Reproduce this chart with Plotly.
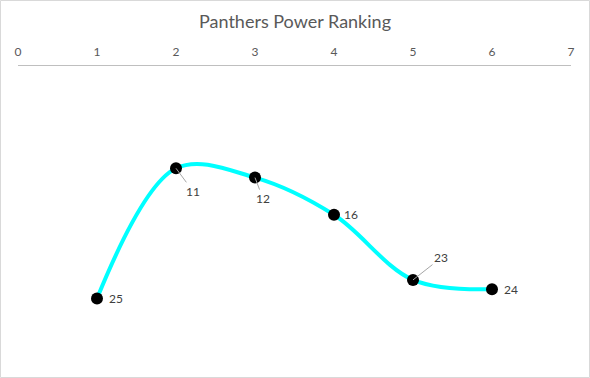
import plotly.graph_objects as go

weeks = [1, 2, 3, 4, 5, 6]
rankings = [25, 11, 12, 16, 23, 24]
x_ticks = [0, 1, 2, 3, 4, 5, 6, 7]
title_text = "Panthers Power Ranking"

# label offsets (pixels): (ax, ay, show_leader)
label_offsets = {
    25: (19, 0, False),
    11: (17, 23, True),
    12: (8, 21, True),
    16: (17, 0, False),
    23: (28, -22, True),
    24: (19, 0, False),
}

W, H = 590, 378
ml, mr, mt, mb = 18, 19, 66, 33

fig = go.Figure()
fig.add_trace(go.Scatter(
    x=weeks, y=rankings, mode="lines",
    line=dict(color="#00FFFF", width=4, shape="spline", smoothing=1.0),
    hoverinfo="skip", showlegend=False,
))
fig.add_trace(go.Scatter(
    x=weeks, y=rankings, mode="markers",
    marker=dict(color="#000000", size=12),
    showlegend=False,
))

for xv, yv in zip(weeks, rankings):
    ax, ay, leader = label_offsets[yv]
    if leader:
        fig.add_annotation(
            x=xv, y=yv, text=str(yv), showarrow=True,
            ax=ax, ay=ay, arrowhead=0, arrowwidth=1,
            arrowcolor="#a6a6a6", standoff=0,
            font=dict(family="Lato", size=12, color="#404040"),
        )
    else:
        fig.add_annotation(
            x=xv, y=yv, text=str(yv), showarrow=False,
            xshift=ax, yshift=ay,
            font=dict(family="Lato", size=12, color="#404040"),
        )

pw = W - ml - mr
ph = H - mt - mb
fig.add_shape(
    type="rect", xref="paper", yref="paper",
    x0=(0.5 - ml) / pw, x1=(W - 0.5 - ml) / pw,
    y0=-(H - 0.5 - mt - ph) / ph, y1=(mt - 0.5) / ph + 1,
    line=dict(color="#d9d9d9", width=1), fillcolor="rgba(0,0,0,0)",
    layer="below",
)

fig.update_layout(
    width=W, height=H,
    margin=dict(l=ml, r=mr, t=mt, b=mb),
    paper_bgcolor="white", plot_bgcolor="white",
    title=dict(text=title_text, x=0.5, xanchor="center", y=1 - 22 / H, yanchor="middle",
               font=dict(family="Lato", size=18, color="#595959")),
    xaxis=dict(range=[0, 7], tickvals=x_ticks, side="top", showgrid=False,
               zeroline=False, showline=True, linecolor="#bfbfbf", linewidth=1,
               ticks="", tickfont=dict(family="Lato", size=12, color="#595959"),
               ticklabelstandoff=4),
    yaxis=dict(range=[30, 0], visible=False, showgrid=False, zeroline=False),
    font=dict(family="Lato"),
)

fig.write_html("out.html", config={"displayModeBar": False},
               post_script="document.body.style.margin='0';")
